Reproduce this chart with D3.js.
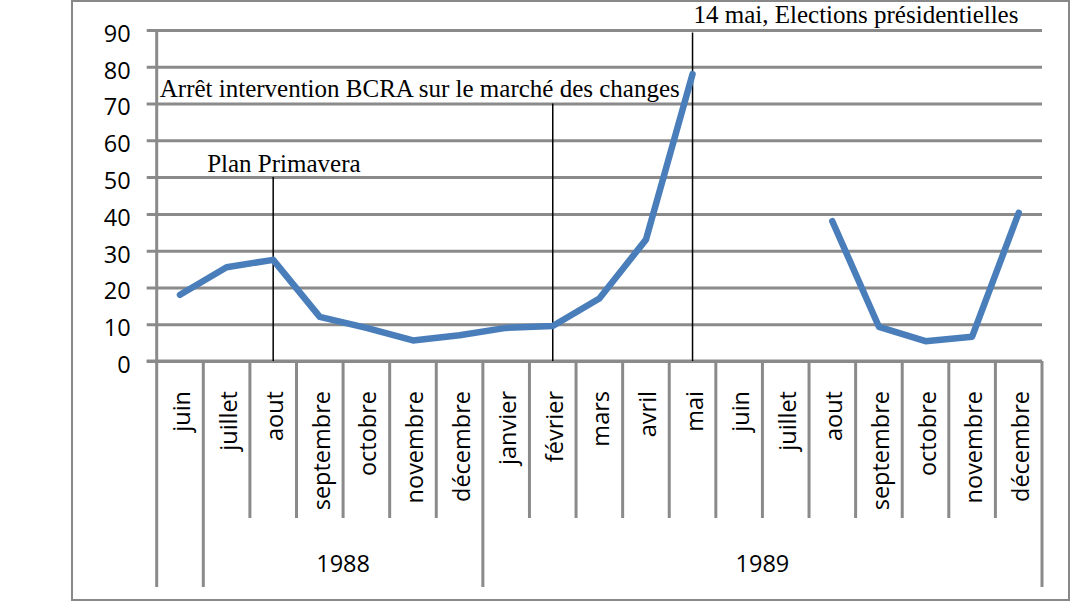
<!DOCTYPE html>
<html>
    <head>
        <meta charset="UTF-8">
        <title>Inflation mensuelle 1988-1989</title>
        <style>
            body { margin: 0; background: #fff; }
            svg { display: block; background: #fff; }
            .grid line { stroke: #8a8a8a; stroke-width: 3px; }
            .ylab text, .month, .year { font-family: "Open Sans", sans-serif; font-size: 23.5px; fill: #000; }
            .note { font-family: "Liberation Serif", serif; font-size: 25px; fill: #000; }
            .line { fill: none; stroke: #4a7ebb; stroke-width: 6.5px; stroke-linejoin: round; stroke-linecap: round; }
        </style>
    </head>
    <body>
        <script src="https://d3js.org/d3.v7.min.js"></script>
        <script type="text/javascript">

            // categories (months), grouped by year
            var months = ["juin", "juillet", "aout", "septembre", "octobre", "novembre", "décembre",
                          "janvier", "février", "mars", "avril", "mai", "juin", "juillet", "aout",
                          "septembre", "octobre", "novembre", "décembre"];
            var yearLabels = ["", "1988", "1989"];
            var yearSpans = [1, 6, 12];

            // monthly values (null = no data)
            var values = [18, 25.5, 27.5, 12, 9, 5.6, 7, 9, 9.5, 17, 33, 78,
                          null, null, 38, 9.3, 5.4, 6.6, 40.3];

            var yTicks = [0, 10, 20, 30, 40, 50, 60, 70, 80, 90];

            // event markers: month index, top of the marker line, label
            var noteMonths = [2, 8, 11];
            var noteTops = [50, 70, 89.3];
            var noteTexts = ["Plan Primavera",
                             "Arrêt intervention BCRA sur le marché des changes",
                             "14 mai, Elections présidentielles"];

            var W = 1074, H = 602;
            var x0 = 156.7, x1 = 1042, yTop = 30, yBottom = 361;

            var svg = d3.select("body").append("svg")
                .attr("width", W)
                .attr("height", H);

            // outer frame
            svg.append("rect")
                .attr("x", 72).attr("y", 1)
                .attr("width", 997).attr("height", 599)
                .attr("fill", "none")
                .attr("stroke", "#888")
                .attr("stroke-width", 2);

            var x = d3.scaleBand()
                .domain(d3.range(months.length))
                .range([x0, x1])
                .padding(0);

            var y = d3.scaleLinear()
                .domain([0, 90])
                .range([yBottom, yTop]);

            // horizontal gridlines + small ticks on the left
            svg.append("g")
                .attr("class", "grid")
                .attr("transform", "translate(" + (x0 - 10) + ",0)")
                .call(d3.axisRight(y).tickValues(yTicks).tickSize(x1 - x0 + 10).tickFormat(""))
                .call(function(g) { g.select(".domain").remove(); });

            // y labels
            svg.append("g")
                .attr("class", "ylab")
                .attr("transform", "translate(" + x0 + ",0)")
                .call(d3.axisLeft(y).tickValues(yTicks).tickSize(0).tickPadding(26))
                .call(function(g) {
                    g.select(".domain").remove();
                    g.selectAll("text").attr("dy", null).attr("y", 11.4)
                        .attr("font-family", null).attr("font-size", null);
                });

            // category boundaries: short for months, long at year groups
            var longIdx = [0];
            yearSpans.reduce(function(acc, s) { longIdx.push(acc + s); return acc + s; }, 0);

            var bounds = d3.range(months.length + 1);
            svg.append("g").selectAll("line")
                .data(bounds)
                .enter().append("line")
                .attr("x1", function(i) { return x0 + i * x.step(); })
                .attr("x2", function(i) { return x0 + i * x.step(); })
                .attr("y1", function(i) { return i === 0 ? yTop : yBottom; })
                .attr("y2", function(i) { return longIdx.indexOf(i) >= 0 ? 587 : 518; })
                .attr("stroke", "#8a8a8a")
                .attr("stroke-width", 3);

            // x axis line
            svg.append("line")
                .attr("x1", x0 - 10).attr("x2", x1)
                .attr("y1", yBottom).attr("y2", yBottom)
                .attr("stroke", "#8a8a8a").attr("stroke-width", 3);

            // month labels (rotated)
            svg.append("g").selectAll("text")
                .data(months)
                .enter().append("text")
                .attr("class", "month")
                .attr("text-anchor", "end")
                .attr("transform", function(d, i) {
                    return "translate(" + (x(i) + x.bandwidth() / 2) + ",391) rotate(-90)";
                })
                .attr("y", 10)
                .text(function(d) { return d; });

            // year labels
            var starts = [0];
            yearSpans.forEach(function(s, i) { starts.push(starts[i] + s); });
            svg.append("g").selectAll("text")
                .data(yearLabels)
                .enter().append("text")
                .attr("class", "year")
                .attr("text-anchor", "middle")
                .attr("x", function(d, i) { return x0 + (starts[i] + yearSpans[i] / 2) * x.step(); })
                .attr("y", 572)
                .text(function(d) { return d; });

            // event marker lines
            svg.append("g").selectAll("line")
                .data(noteMonths)
                .enter().append("line")
                .attr("x1", function(d) { return x(d) + x.bandwidth() / 2; })
                .attr("x2", function(d) { return x(d) + x.bandwidth() / 2; })
                .attr("y1", function(d, i) { return y(noteTops[i]); })
                .attr("y2", y(0))
                .attr("stroke", "#000")
                .attr("stroke-width", 1.5);

            // the series
            var valueline = d3.line()
                .defined(function(d) { return d != null; })
                .x(function(d, i) { return x(i) + x.bandwidth() / 2; })
                .y(function(d) { return y(d); });

            svg.append("path")
                .attr("class", "line")
                .attr("d", valueline(values));

            // event labels
            var noteDx = [-66, -393, 1];
            var noteVal = [51.4, 71.8, 91.8];
            svg.append("g").selectAll("text")
                .data(noteTexts)
                .enter().append("text")
                .attr("class", "note")
                .attr("x", function(d, i) { return x(noteMonths[i]) + x.bandwidth() / 2 + noteDx[i]; })
                .attr("y", function(d, i) { return y(noteVal[i]); })
                .text(function(d) { return d; });

        </script>
    </body>
</html>
